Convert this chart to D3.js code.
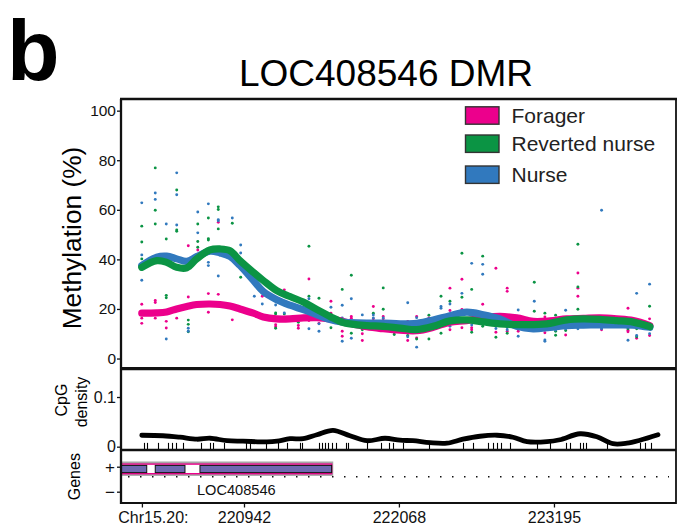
<!DOCTYPE html>
<html>
<head>
<meta charset="utf-8">
<script src="https://cdn.jsdelivr.net/npm/d3@7"></script>
<style>
  body { margin: 0; background: #fff; }
  svg { display: block; font-family: "Liberation Sans", Arial, Helvetica, sans-serif; }
</style>
</head>
<body>
<svg id="chart" width="688" height="531"></svg>
<script>
// ---- Data -------------------------------------------------------------
const groups = ["Forager", "Reverted nurse", "Nurse"];
const groupColors = ["#EC008C", "#0B9444", "#3179BE"];

// CpG sites (bp) shown as rug ticks in the density track
const cpgPositions = [220215, 220237, 220317, 220390, 220419, 220448, 220499, 220630, 220695, 220717,
  220797, 220957, 220986, 221102, 221189, 221254, 221349, 221363, 221487, 221509, 221531, 221552,
  221581, 221611, 221683, 221698, 221836, 221938, 221996, 222025, 222097, 222286, 222533, 222606,
  222715, 222751, 222781, 222810, 222875, 223071, 223166, 223282, 223311, 223384, 223405, 223427,
  223580, 223820, 223856, 223900];

// Per-site methylation (%) of the replicate samples
const sitePositions = [220199, 220297, 220377, 220453, 220537, 220606, 220683, 220755, 220857, 220918,
  221017, 221075, 221172, 221235, 221337, 221414, 221487, 221574, 221656, 221722, 221802, 221882,
  221954, 222034, 222132, 222197, 222286, 222374, 222439, 222526, 222597, 222677, 222773, 222855,
  222935, 223052, 223129, 223207, 223280, 223369, 223541, 223733, 223796, 223890];
const foragerValues = [[21.9, 16.3, 14.2], [23.4, 22.6, 16.3], [15.0, 12.3], [16.3], [45.5, 24.8], [43.8],
  [26.2, 18.7], [55.0, 25.9], [15.6], [], [], [25.1], [27.4, 13.6, 12.8], [27.7], [13.3, 12.2],
  [32.1, 15.3], [14.2], [23.1, 18.3], [11.0, 9.0], [17.0, 16.3], [10.0, 7.3], [21.0, 16.0], [17.0, 16.0],
  [14.8, 10.5], [15.0, 7.3], [17.0, 8.3], [16.4], [13.3], [28.4, 19.4, 11.6], [32.0, 19.8, 12.4],
  [12.4, 11.6], [21.9], [36.4, 10.6], [28.4, 27.1, 11.0], [11.0], [], [16.8, 10.4], [12.0], [9.5],
  [34.5, 28.4, 25.1], [11.6], [20.3, 11.4, 10.8], [15.7, 8.2], [16.0, 9.3]];
const revertedValues = [[53.4, 47.0, 40.2], [76.9, 59.8, 54.3], [48.2, 25.5, 24.5], [68.0, 51.9, 51.3],
  [15.5, 13.8, 10.8], [54.3, 47.2, 44.9], [56.7, 48.3, 47.8], [61.2, 60.1, 52.3], [54.6], [38.2, 32.8],
  [], [], [18.4, 18.0, 12.2], [18.0], [14.6], [45.3, 25.1], [24.3], [12.4], [27.9], [33.6, 10.2],
  [11.6, 12.5], [18.3], [28.5, 19.9], [14.0, 9.7], [9.3], [7.9], [17.5, 7.9], [25.1, 10.2], [23.1],
  [42.5, 24.7], [27.9, 10.6], [41.3, 13.0], [8.6], [10.2], [], [30.8, 19.1], [18.3], [17.5, 11.0, 9.4],
  [11.3], [46.1, 28.9, 19.9], [], [12.0], [12.0, 8.8], [21.1]];
const nurseValues = [[62.8, 41.8, 31.6], [66.8, 64.2, 40.0], [54.3, 7.9], [74.9, 66.1, 53.9], [12.2, 11.0],
  [59.1, 50.7], [62.4, 38.8, 37.5], [56.0, 55.6, 33.3], [56.7], [45.8, 42.6], [25.1], [22.0], [21.6],
  [18.4], [], [24.1, 12.0], [14.0, 11.0], [20.7], [21.5, 16.4, 7.0], [24.1, 8.2], [17.6], [17.6, 16.4],
  [16.4], [], [22.5, 8.8], [16.5, 4.6], [], [21.0, 20.3], [22.0, 13.0], [26.3], [38.4, 13.5],
  [38.0, 34.0], [12.1], [11.6, 12.5], [19.6, 9.0], [23.1, 11.3], [7.5, 7.0], [11.5], [19.5, 12.0],
  [12.0], [59.8, 12.0], [7.4], [26.3, 9.3], [30.0, 10.0]];

// Smoothed group methylation (%)
const fitPositions = [220199, 220308, 220380, 220453, 220526, 220598, 220695, 220768, 220840, 220913,
  221010, 221082, 221180, 221276, 221373, 221470, 221567, 221664, 221712, 221834, 221954, 222076,
  222197, 222318, 222439, 222560, 222681, 222802, 222924, 223044, 223166, 223287, 223408, 223529,
  223650, 223771, 223892];
const foragerFit = [18.3, 18.4, 18.8, 20.0, 21.0, 21.8, 22.0, 21.8, 21.2, 20.0, 18.3, 16.8, 16.0, 16.0,
  16.4, 16.5, 16.0, 14.9, 14.2, 12.8, 12.0, 11.4, 11.2, 12.6, 14.7, 15.3, 16.4, 17.0, 16.4, 15.0, 15.2,
  16.0, 16.2, 16.4, 16.0, 15.3, 13.3];
const revertedFit = [36.8, 39.5, 38.8, 36.8, 36.6, 40.2, 43.8, 44.2, 43.5, 39.5, 34.8, 31.5, 27.4, 25.0,
  22.8, 19.8, 17.0, 14.5, 14.0, 13.3, 13.0, 12.3, 11.7, 13.0, 15.2, 15.6, 14.8, 14.0, 13.7, 13.7, 14.2,
  15.6, 16.0, 15.8, 15.3, 14.7, 12.9];
const nurseFit = [37.5, 40.9, 41.3, 40.2, 39.2, 41.1, 43.3, 42.6, 41.2, 37.5, 31.5, 27.0, 23.7, 21.5,
  19.7, 17.7, 15.7, 14.7, 14.5, 14.3, 14.3, 14.0, 14.2, 15.5, 17.3, 18.7, 17.7, 16.0, 13.0, 12.0, 12.6,
  13.3, 13.5, 13.6, 13.6, 13.5, 12.6];

// CpG density
const densityPositions = [220199, 220353, 220477, 220600, 220695, 220818, 220935, 221109, 221182, 221276,
  221371, 221472, 221589, 221712, 221836, 221967, 222076, 222170, 222294, 222417, 222533, 222657,
  222781, 222897, 222999, 223144, 223238, 223384, 223507, 223624, 223725, 223820, 223951];
const densityValues = [0.023, 0.022, 0.019, 0.015, 0.017, 0.012, 0.011, 0.0095, 0.011, 0.016, 0.016,
  0.024, 0.033, 0.022, 0.012, 0.017, 0.013, 0.012, 0.008, 0.007, 0.015, 0.021, 0.023, 0.019, 0.010,
  0.010, 0.014, 0.026, 0.020, 0.006, 0.007, 0.013, 0.024];

// Gene model
const geneName = "LOC408546";
const geneStrand = "+";
const exonStarts = [219900, 220297, 220622];
const exonEnds = [220235, 220513, 221579];
const geneLabelPos = 220886;

// Axis ticks
const axisTickPositions = [220200, 220942, 222068, 223195];
const axisTickLabels = ["Chr15.20:", "220942", "222068", "223195"];
const methTicks = [0, 20, 40, 60, 80, 100];
const densityTicks = [0, 0.1];
const strandLabels = ["+", "\u2212"];

// ---- Layout -----------------------------------------------------------
const L = 121, R = 676, T = 99, mainB = 368.7, cpgB = 450, genesB = 503;
const svg = d3.select("#chart");

const x = d3.scaleLinear().domain([220048, 224082]).range([L, R]);
const y = d3.scaleLinear().domain([-4.1, 104.7]).range([mainB, T]);
const yd = d3.scaleLinear().domain([-0.0067, 0.157]).range([cpgB, mainB]);
const ys = d3.scalePoint().domain(strandLabels).range([466.7, 491.7]);
const color = d3.scaleOrdinal().domain(groups).range(groupColors);

svg.append("defs").append("clipPath").attr("id", "plotClip")
  .append("rect").attr("x", L).attr("y", T).attr("width", R - L).attr("height", genesB - T);

// Panel label and title
svg.append("text").attr("x", 7).attr("y", 80)
  .attr("font-size", 86).attr("font-weight", "bold").text("b");
svg.append("text").attr("x", 386).attr("y", 86).attr("text-anchor", "middle")
  .attr("font-size", 37).text("LOC408546 DMR");

// ---- Methylation panel -----------------------------------------------
const main = svg.append("g").attr("clip-path", "url(#plotClip)");
const seriesValues = [foragerValues, revertedValues, nurseValues];
const seriesFits = [foragerFit, revertedFit, nurseFit];

groups.forEach((g, gi) => {
  const pts = [];
  sitePositions.forEach((p, i) => seriesValues[gi][i].forEach(v => pts.push({ p, v })));
  main.append("g").selectAll("circle").data(pts).join("circle")
    .attr("cx", d => x(d.p)).attr("cy", d => y(d.v)).attr("r", 1.45)
    .attr("fill", color(g));
});

const fitLine = d3.line().x(d => x(d[0])).y(d => y(d[1])).curve(d3.curveCatmullRom.alpha(0.5));
[0, 2, 1].forEach(gi => {
  main.append("path")
    .datum(fitPositions.map((p, i) => [p, seriesFits[gi][i]]))
    .attr("d", fitLine).attr("fill", "none")
    .attr("stroke", groupColors[gi]).attr("stroke-width", 7.2)
    .attr("stroke-linecap", "round").attr("stroke-linejoin", "round");
});

const yAxis = svg.append("g").attr("transform", `translate(${L},0)`)
  .call(d3.axisLeft(y).tickValues(methTicks).tickSize(4).tickPadding(1));
yAxis.select(".domain").remove();
yAxis.selectAll("line").attr("stroke", "#111").attr("stroke-width", 1.3);
yAxis.selectAll("text").attr("font-size", 15.5).attr("fill", "#111").attr("font-family", null);

svg.append("text").attr("transform", `translate(80.5,238) rotate(-90)`)
  .attr("text-anchor", "middle").attr("font-size", 26.3).text("Methylation (%)");

// Legend
const legendY = [115.5, 143.7, 174.7];
const legend = svg.append("g");
groups.forEach((g, i) => {
  legend.append("rect").attr("x", 465.5).attr("y", legendY[i] - 8.7)
    .attr("width", 33.5).attr("height", 17.4)
    .attr("fill", color(g)).attr("stroke", "#333").attr("stroke-width", 1.4);
  legend.append("text").attr("x", 511.5).attr("y", legendY[i]).attr("dy", "0.36em")
    .attr("font-size", 21).attr("fill", "#222").text(g);
});

// ---- CpG density panel -----------------------------------------------
const densLine = d3.line().x(d => x(d[0])).y(d => yd(d[1])).curve(d3.curveCatmullRom.alpha(0.5));
main.append("g").selectAll("line").data(cpgPositions).join("line")
  .attr("x1", d => Math.round(x(d)) + 0.5).attr("x2", d => Math.round(x(d)) + 0.5)
  .attr("y1", yd(0) - 3.8).attr("y2", cpgB)
  .attr("stroke", "#000").attr("stroke-width", 1.1);
main.append("path")
  .datum(densityPositions.map((p, i) => [p, densityValues[i]]))
  .attr("d", densLine).attr("fill", "none").attr("stroke", "#000")
  .attr("stroke-width", 4.8).attr("stroke-linecap", "round").attr("stroke-linejoin", "round");

const dAxis = svg.append("g").attr("transform", `translate(${L},0)`)
  .call(d3.axisLeft(yd).tickValues(densityTicks).tickFormat(d3.format("")).tickSize(4).tickPadding(1));
dAxis.select(".domain").remove();
dAxis.selectAll("line").attr("stroke", "#111").attr("stroke-width", 1.3);
dAxis.selectAll("text").attr("font-size", 16).attr("fill", "#111").attr("font-family", null);

svg.append("text").attr("transform", `translate(67,400) rotate(-90)`)
  .attr("text-anchor", "middle").attr("font-size", 16).text("CpG");
svg.append("text").attr("transform", `translate(86.5,402) rotate(-90)`)
  .attr("text-anchor", "middle").attr("font-size", 16).text("density");

// ---- Gene track -------------------------------------------------------
const geneY = ys(geneStrand);
main.append("line").attr("x1", L + 7).attr("x2", 669)
  .attr("y1", 476.7).attr("y2", 476.7)
  .attr("stroke", "#111").attr("stroke-width", 1.6).attr("stroke-dasharray", "1.5 10.5");

const gx0 = x(exonStarts[0]), gx1 = x(exonEnds[exonEnds.length - 1]);
main.append("rect").attr("x", gx0 - 2).attr("y", geneY - 5.2)
  .attr("width", gx1 - gx0 + 3.6).attr("height", 14.4).attr("fill", "#a6a6a6");
main.append("rect").attr("x", gx0 - 1).attr("y", geneY - 2.6)
  .attr("width", gx1 - gx0 + 1).attr("height", 9.6)
  .attr("fill", "#fff").attr("stroke", "#EC008C").attr("stroke-width", 1.4);
main.append("g").selectAll("rect").data(exonStarts.map((s, i) => [s, exonEnds[i]])).join("rect")
  .attr("x", d => x(d[0])).attr("y", geneY - 1.3)
  .attr("width", d => x(d[1]) - x(d[0])).attr("height", 7.2)
  .attr("fill", "#6D68B1").attr("stroke", "#111").attr("stroke-width", 1);
svg.append("text").attr("x", x(geneLabelPos)).attr("y", 495)
  .attr("text-anchor", "middle").attr("font-size", 14.6).attr("fill", "#111").text(geneName);

const sAxis = svg.append("g").attr("transform", `translate(${L},0)`)
  .call(d3.axisLeft(ys).tickSize(4).tickPadding(2));
sAxis.select(".domain").remove();
sAxis.selectAll("line").attr("stroke", "#111").attr("stroke-width", 1.3);
sAxis.selectAll("text").attr("font-size", 17).attr("fill", "#111").attr("font-family", null);

svg.append("text").attr("transform", `translate(80,476.7) rotate(-90)`)
  .attr("text-anchor", "middle").attr("font-size", 16).text("Genes");

// ---- Genomic axis -----------------------------------------------------
const xAxis = svg.append("g").attr("transform", `translate(0,${genesB})`)
  .call(d3.axisBottom(x).tickValues(axisTickPositions)
    .tickFormat((d, i) => axisTickLabels[i]).tickSize(4.5).tickPadding(4));
xAxis.select(".domain").remove();
xAxis.selectAll("line").attr("stroke", "#111").attr("stroke-width", 1.3);
xAxis.selectAll("text").attr("font-size", 16).attr("fill", "#111").attr("font-family", null);
xAxis.selectAll("text").filter((d, i) => i === 0).attr("dx", 11);

// ---- Panel frames -----------------------------------------------------
const frame = svg.append("g").attr("stroke", "#111").attr("fill", "none");
frame.append("line").attr("x1", L - 1).attr("x2", R + 1).attr("y1", T).attr("y2", T).attr("stroke-width", 2.5);
frame.append("line").attr("x1", L).attr("x2", L).attr("y1", T).attr("y2", genesB + 1).attr("stroke-width", 2.3);
frame.append("line").attr("x1", R).attr("x2", R).attr("y1", T).attr("y2", genesB + 1).attr("stroke-width", 1.8);
frame.append("line").attr("x1", L).attr("x2", R).attr("y1", mainB).attr("y2", mainB).attr("stroke-width", 3.3);
frame.append("line").attr("x1", L).attr("x2", R).attr("y1", cpgB).attr("y2", cpgB).attr("stroke-width", 2.6);
frame.append("line").attr("x1", L).attr("x2", R).attr("y1", genesB).attr("y2", genesB).attr("stroke-width", 2);
</script>
</body>
</html>
